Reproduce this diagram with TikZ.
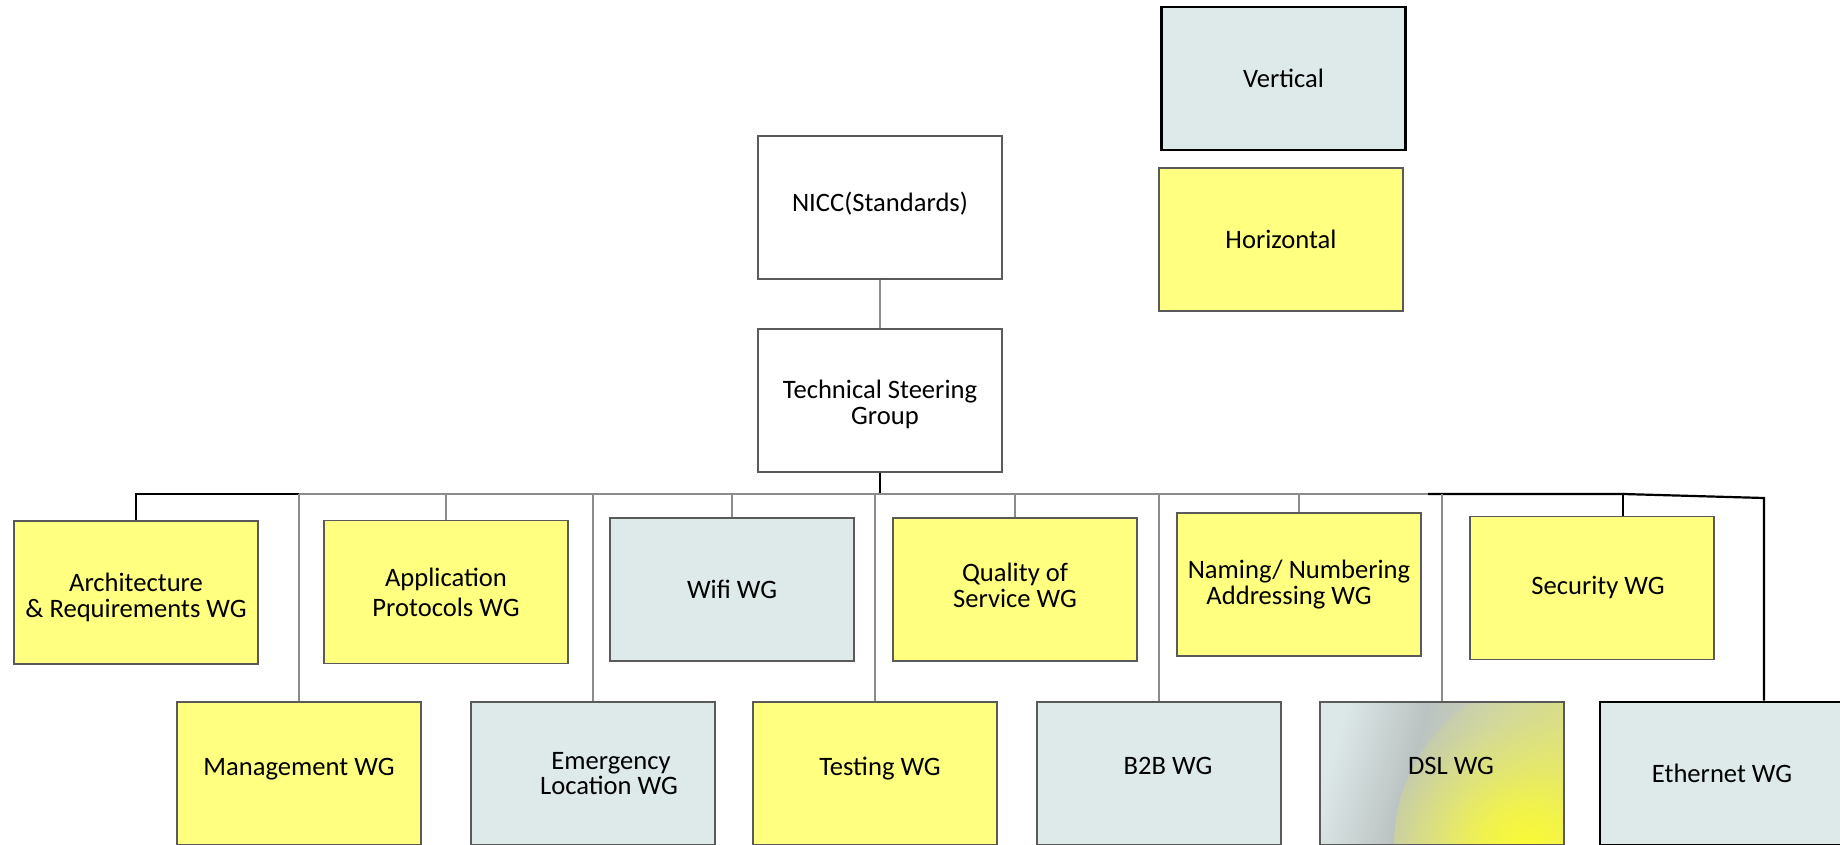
\documentclass[tikz,border=0pt]{standalone}
\usepackage{fontspec}
\setmainfont{Carlito}
\usetikzlibrary{fadings}

\definecolor{wgyellow}{RGB}{255,255,128}
\definecolor{wgblue}{RGB}{222,234,234}
\definecolor{boxedge}{RGB}{90,90,90}
\definecolor{linkgray}{RGB}{140,140,140}
\definecolor{dsllight}{RGB}{220,231,231}
\definecolor{dslgray}{RGB}{187,195,194}
\definecolor{dslsage}{RGB}{203,210,174}
\definecolor{dslolive}{RGB}{214,219,146}
\definecolor{dslyellow}{RGB}{250,250,55}

\pgfdeclarehorizontalshading{dslshade}{100bp}{color(0bp)=(dsllight); color(25bp)=(dsllight); color(43bp)=(dslgray); color(57bp)=(dslsage); color(72bp)=(dslolive); color(100bp)=(dslolive)}
% soft yellow glow for the DSL box
\pgfdeclareradialshading{dslglowshade}{\pgfpointorigin}{color(0bp)=(white); color(5bp)=(black!20); color(11bp)=(black!55); color(18bp)=(black!85); color(25bp)=(black); color(50bp)=(black)}
\pgfdeclarefading{dslglow}{\pgfuseshading{dslglowshade}}

\tikzset{
  wgbox/.style={draw=boxedge, line width=0.6pt, minimum width=122pt, minimum height=71.5pt,
    inner sep=0pt, align=center, font=\fontsize{13.3}{12.9}\selectfont},
  horizwg/.style={wgbox, fill=wgyellow},
  vertwg/.style={wgbox, fill=wgblue},
  link/.style={draw=linkgray, line width=0.6pt},
  boldlink/.style={draw=black, line width=1.1pt},
}

\begin{document}
\begin{tikzpicture}[x=0.5pt, y=-0.5pt]
	\useasboundingbox (0,0) rectangle (1840,845);
	
	% legend
	\node[vertwg, draw=black, line width=1.3pt] (vertical) at (1283.5,78.5) {Vertical};
	\node[horizwg] (horizontal) at (1281,239.5) {Horizontal};
	
	\node[wgbox] (nicc) at (880,207.5) {\raisebox{6pt}{NICC(Standards)}};
	\node[wgbox] (tsg) at (880,400.5) {\raisebox{-6.6pt}[0pt][0pt]{\begin{tabular}{@{}c@{}}Technical Steering\\ \hspace{5pt}Group\end{tabular}}};
	
	% top row
	\node[horizwg] (arch) at (136,592.5) {\raisebox{-6.8pt}[0pt][0pt]{\begin{tabular}{@{}c@{}}Architecture\\ \& Requirements WG\end{tabular}}};
	\node[horizwg] (app) at (446,592) {Application\\[2pt] Protocols WG};
	\node[vertwg] (wifi) at (732,589.5) {\raisebox{-5pt}{Wifi WG}};
	\node[horizwg] (qos) at (1015,589.5) {\raisebox{2.5pt}{\begin{tabular}{@{}c@{}}Quality of\\ Service WG\end{tabular}}};
	\node[horizwg] (naming) at (1299,584.5) {Naming/ Numbering\\ \hspace*{-10pt}Addressing WG};
	\node[horizwg] (security) at (1592,588) {\raisebox{3pt}{\hspace{6pt}Security WG}};
	
	% bottom row
	\node[horizwg] (mgmt) at (299,773.5) {\raisebox{7pt}{Management WG}};
	\node[vertwg] (emerg) at (593,773.5) {\hspace{18pt}Emergency\\ \hspace{16pt}Location WG};
	\node[horizwg] (testing) at (875,773.5) {\raisebox{7pt}{\hspace{5pt}Testing WG}};
	\node[vertwg] (b2b) at (1159,773.5) {\raisebox{7.5pt}{\hspace{9pt}B2B WG}};
	\node[wgbox, shade, shading=dslshade, shading angle=-15,
		path picture={\fill[dslyellow, path fading=dslglow] (path picture bounding box.south east) circle[radius=85pt];}]
		(dsl) at (1442,773.5) {\raisebox{7.5pt}{\hspace{9pt}DSL WG}};
	\node[vertwg, draw=black, line width=1.3pt] (eth) at (1722,773.5) {Ethernet WG};
	
	\coordinate (bus) at (0,494);
	\coordinate (busblack) at (1428,494);
	\coordinate (secjoin) at (1623,494);
	\coordinate (ethjoin) at (1764,498);
	
	\draw[link] (nicc.south) -- (tsg.north);
	\draw[draw=black, line width=0.7pt] (tsg.south) -- (tsg.south |- bus);
	
	% bus
	\draw[boldlink] (arch.north) -- (arch.north |- bus) -- (mgmt.north |- bus);
	\draw[link] (mgmt.north |- bus) -- (busblack);
	\draw[boldlink] (busblack) -- (secjoin) -- (ethjoin) -- (ethjoin |- eth.north);
	\draw[boldlink] (secjoin) -- (secjoin |- security.north);
	
	\foreach \wg in {app, wifi, qos, naming, mgmt, emerg, testing, b2b, dsl}
		\draw[link] (\wg.north |- bus) -- (\wg.north);
\end{tikzpicture}
\end{document}
